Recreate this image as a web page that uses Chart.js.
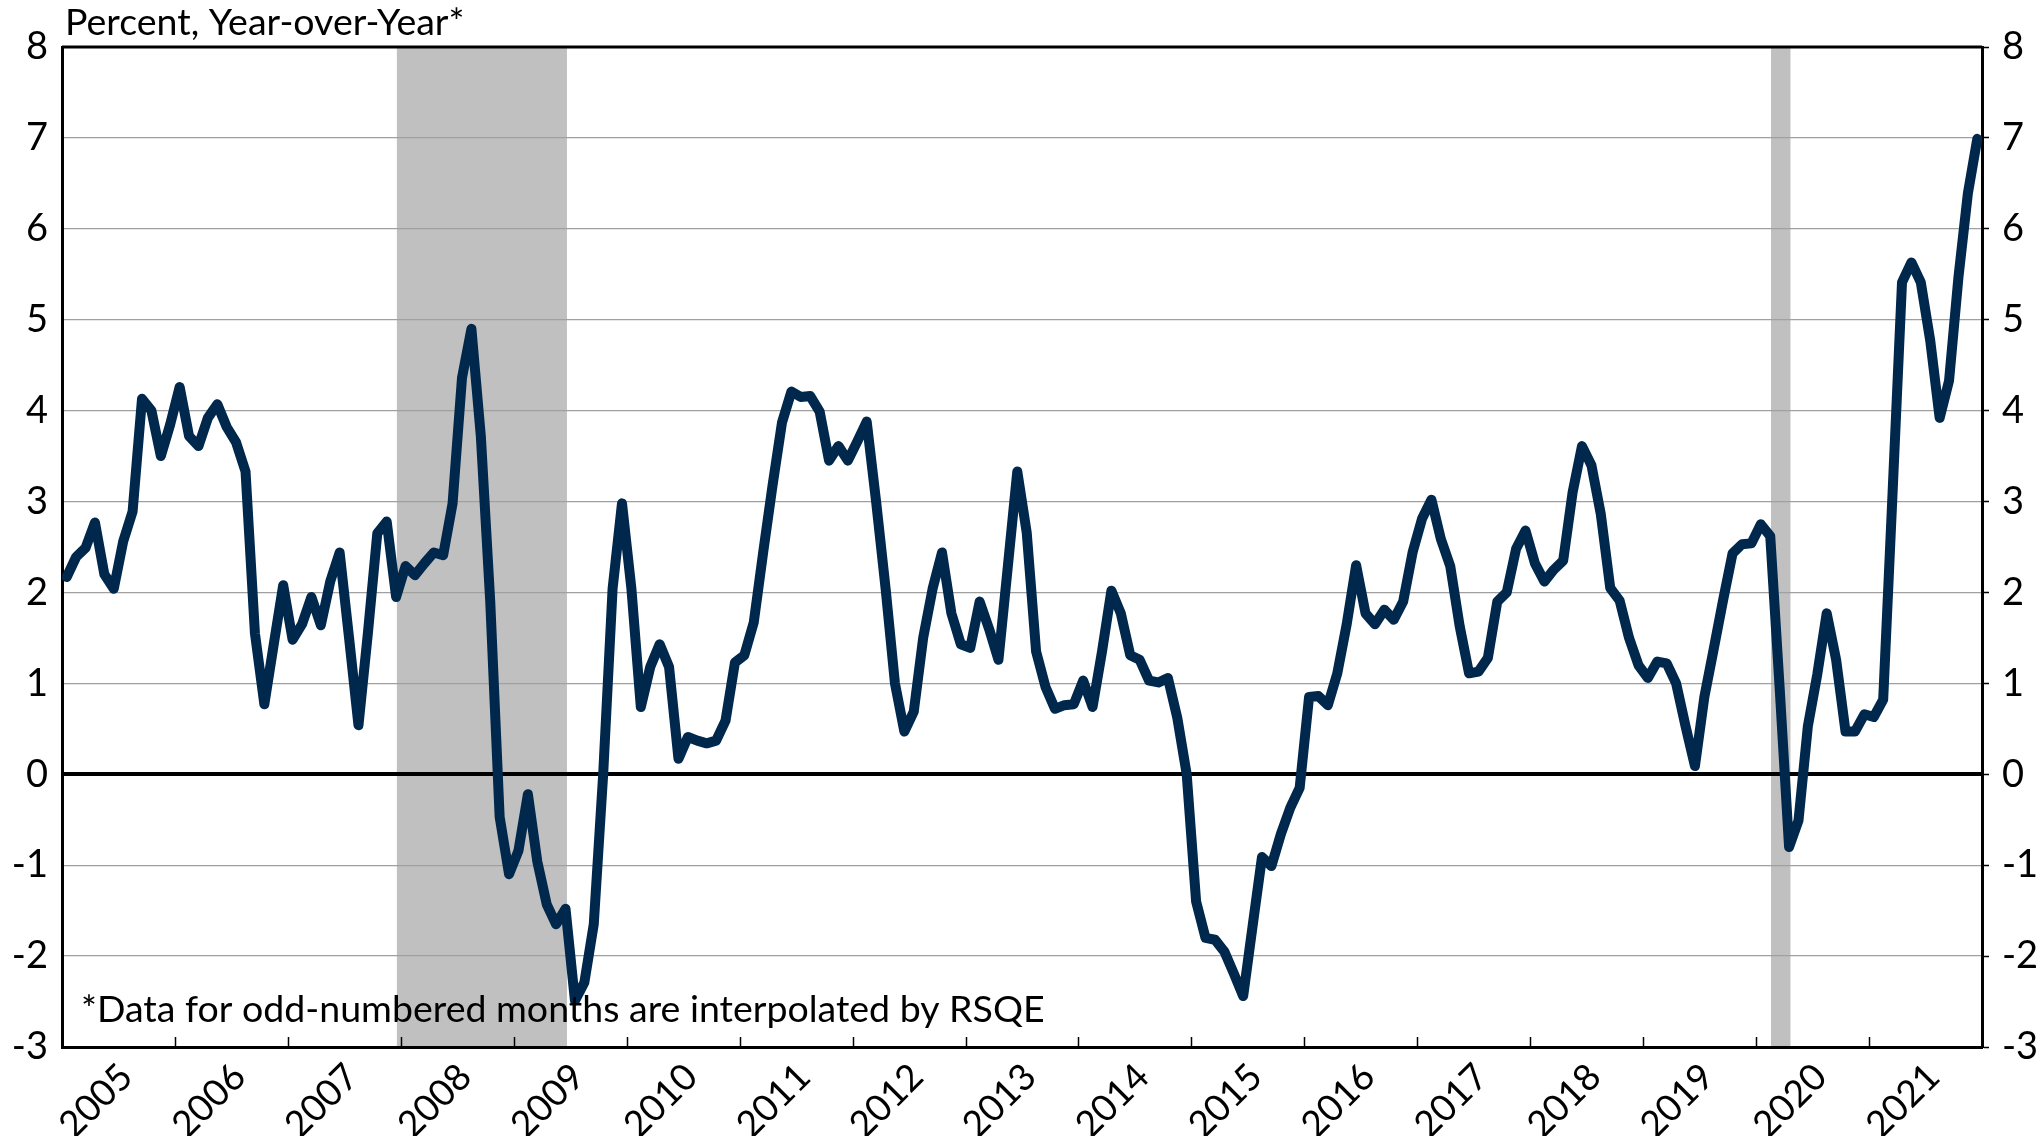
<!DOCTYPE html>
<html>
<head>
<meta charset="utf-8">
<title>Percent, Year-over-Year</title>
<script src="https://cdn.jsdelivr.net/npm/chart.js"></script>
<style>
  html, body { margin: 0; padding: 0; background: #fff; }
  #chart { display: block; }
</style>
</head>
<body>
<canvas id="chart" width="2041" height="1136"></canvas>
<script>
// Year labels for the category axis (one year = 12 monthly points)
const years = ['2005','2006','2007','2008','2009','2010','2011','2012','2013',
  '2014','2015','2016','2017','2018','2019','2020','2021'];

// Percent change, year-over-year, monthly Jan 2005 .. Dec 2021
const yoyPct = [
  2.17, 2.39, 2.49, 2.77, 2.20, 2.04, 2.56, 2.89, 4.13, 4.00, 3.50, 3.85,   // 2005
  4.26, 3.72, 3.61, 3.92, 4.07, 3.82, 3.65, 3.33, 1.55, 0.77, 1.43, 2.08,   // 2006
  1.48, 1.65, 1.95, 1.64, 2.12, 2.44, 1.50, 0.54, 1.55, 2.65, 2.78, 1.95,   // 2007
  2.29, 2.19, 2.32, 2.44, 2.41, 2.98, 4.36, 4.90, 3.72, 1.90, -0.47, -1.10, // 2008
  -0.84, -0.22, -0.96, -1.43, -1.65, -1.48, -2.49, -2.29, -1.65, 0.00, 2.04, 2.98, // 2009
  2.04, 0.74, 1.18, 1.43, 1.18, 0.17, 0.41, 0.37, 0.34, 0.37, 0.59, 1.23,   // 2010
  1.31, 1.67, 2.44, 3.18, 3.87, 4.21, 4.15, 4.16, 3.99, 3.45, 3.61, 3.45,   // 2011
  3.66, 3.88, 3.00, 2.05, 1.00, 0.47, 0.69, 1.50, 2.04, 2.44, 1.77, 1.43,   // 2012
  1.39, 1.90, 1.60, 1.26, 2.29, 3.33, 2.66, 1.35, 0.96, 0.72, 0.76, 0.77,   // 2013
  1.03, 0.74, 1.35, 2.02, 1.77, 1.31, 1.26, 1.03, 1.01, 1.06, 0.62, 0.00,   // 2014
  -1.40, -1.80, -1.82, -1.95, -2.19, -2.44, -1.67, -0.91, -1.01, -0.66, -0.37, -0.15, // 2015
  0.85, 0.86, 0.76, 1.11, 1.65, 2.30, 1.77, 1.65, 1.81, 1.70, 1.90, 2.44,   // 2016
  2.81, 3.02, 2.59, 2.29, 1.63, 1.11, 1.13, 1.28, 1.90, 2.00, 2.48, 2.68,   // 2017
  2.32, 2.12, 2.25, 2.35, 3.10, 3.61, 3.40, 2.86, 2.05, 1.91, 1.50, 1.20,   // 2018
  1.06, 1.24, 1.22, 1.00, 0.53, 0.09, 0.85, 1.38, 1.92, 2.43, 2.53, 2.54,   // 2019
  2.75, 2.62, 0.95, -0.80, -0.51, 0.53, 1.10, 1.77, 1.26, 0.47, 0.47, 0.66, // 2020
  0.63, 0.82, 3.10, 5.41, 5.63, 5.41, 4.77, 3.92, 4.33, 5.47, 6.39, 6.99    // 2021
];

// Recession shading: [first month index, last month index] (Dec 2007-Jun 2009, Feb-Apr 2020)
const recessions = [[35, 53], [181, 183]];

const yTicks = [-3, -2, -1, 0, 1, 2, 3, 4, 5, 6, 7, 8];

const FONT = 'Lato, "Open Sans", sans-serif';
const NAVY = '#00274c';

const points = yoyPct.map((v, i) => ({ x: i, y: v }));
const nMonths = yoyPct.length;

// shaded recession bars, drawn under the grid lines
const shading = {
  id: 'shading',
  beforeDraw(chart) {
    const { ctx, chartArea, scales } = chart;
    ctx.save();
    ctx.fillStyle = '#c0c0c0';
    recessions.forEach(([a, b]) => {
      const x1 = scales.x.getPixelForValue(a + 0.08);
      const x2 = scales.x.getPixelForValue(b + 0.15);
      ctx.fillRect(x1, chartArea.top, x2 - x1, chartArea.bottom - chartArea.top);
    });
    ctx.restore();
  }
};

// year-boundary tick marks pointing into the plot, plus the title and footnote
const extras = {
  id: 'extras',
  afterDraw(chart) {
    const { ctx, chartArea, scales } = chart;
    ctx.save();
    ctx.strokeStyle = '#000';
    ctx.lineWidth = 1.5;
    for (let m = 12; m < nMonths; m += 12) {
      const x = Math.round(scales.x.getPixelForValue(m - 0.5)) + 0.5;
      ctx.beginPath();
      ctx.moveTo(x, chartArea.bottom);
      ctx.lineTo(x, chartArea.bottom - 10);
      ctx.stroke();
    }
    // top border
    ctx.lineWidth = 3;
    ctx.beginPath();
    ctx.moveTo(chartArea.left, chartArea.top);
    ctx.lineTo(chartArea.right, chartArea.top);
    ctx.stroke();

    ctx.fillStyle = '#000';
    ctx.font = '37.5px ' + FONT;
    ctx.textAlign = 'left';
    ctx.textBaseline = 'alphabetic';
    ctx.fillText('Percent, Year-over-Year*', 65, 35);
    ctx.fillText('*Data for odd-numbered months are interpolated by RSQE', 81, 1022);
    ctx.restore();
  }
};

new Chart(document.getElementById('chart'), {
  type: 'line',
  data: {
    datasets: [{
      data: points,
      borderColor: NAVY,
      borderWidth: 10,
      borderJoinStyle: 'round',
      borderCapStyle: 'round',
      pointRadius: 0,
      tension: 0,
      fill: false
    }]
  },
  options: {
    responsive: false,
    animation: false,
    events: [],
    layout: { padding: { top: 47, right: 0, bottom: 0, left: 0 } },
    plugins: { legend: { display: false }, tooltip: { enabled: false }, title: { display: false } },
    scales: {
      x: {
        type: 'linear',
        min: -0.5,
        max: nMonths - 0.5,
        afterBuildTicks: s => { s.ticks = years.map((y, i) => ({ value: i * 12 + 5.5 })); },
        afterFit: s => { s.height = 89; },
        grid: { display: false, drawTicks: false },
        border: { display: true, color: '#000', width: 3 },
        ticks: {
          autoSkip: false,
          maxRotation: 45,
          minRotation: 45,
          padding: 8,
          labelOffset: 8,
          color: '#000',
          font: { family: FONT, size: 37 },
          callback: (v, i) => years[i]
        }
      },
      y: {
        position: 'left',
        min: -3,
        max: 8,
        afterBuildTicks: s => { s.ticks = yTicks.map(v => ({ value: v })); },
        afterFit: s => { s.width = 62; },
        grid: {
          drawTicks: false,
          color: c => (c.tick.value === 0 ? '#000' : '#a0a0a0'),
          lineWidth: c => (c.tick.value === 0 ? 4 : 1.2)
        },
        border: { display: true, color: '#000', width: 3 },
        ticks: { padding: 14, color: '#000', font: { family: FONT, size: 38 } }
      },
      y2: {
        position: 'right',
        min: -3,
        max: 8,
        afterBuildTicks: s => { s.ticks = yTicks.map(v => ({ value: v })); },
        afterFit: s => { s.width = 59; },
        grid: { drawOnChartArea: false, drawTicks: true, tickLength: 7, tickColor: '#000', tickWidth: 1.5 },
        border: { display: true, color: '#000', width: 3 },
        ticks: { padding: 13, color: '#000', font: { family: FONT, size: 38 } }
      }
    }
  },
  plugins: [shading, extras]
});
</script>
</body>
</html>
